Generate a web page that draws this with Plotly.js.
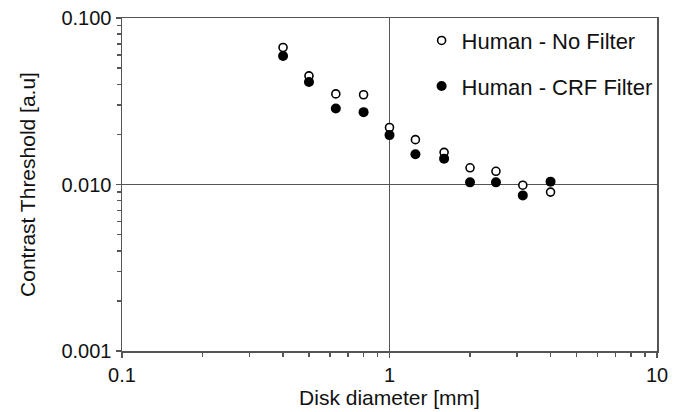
<!DOCTYPE html>
<html>
<head>
<meta charset="utf-8">
<script src="https://cdn.plot.ly/plotly-3.0.1.min.js"></script>
<style>html,body{margin:0;padding:0;background:#fff;}#chart{width:682px;height:412px;}</style>
</head>
<body>
<div id="chart"></div>
<script>
// Disk diameter [mm]
const diameters = [0.4, 0.5, 0.63, 0.8, 1.0, 1.25, 1.6, 2.0, 2.5, 3.15, 4.0];
// Contrast threshold, no filter (open circles)
const noFilter = [0.0665, 0.0449, 0.0350, 0.0346, 0.0220, 0.0186, 0.0156, 0.0126, 0.0120, 0.0099, 0.0090];
// Contrast threshold, CRF filter (filled circles)
const crfFilter = [0.0591, 0.0413, 0.0286, 0.0272, 0.0198, 0.0152, 0.0143, 0.0103, 0.0103, 0.0086, 0.0104];

const xMajor = [0.1, 1, 10];
const xMajorText = ['0.1', '1', '10'];
const yMajor = [0.001, 0.01, 0.1];
const yMajorText = ['0.001', '0.010', '0.100'];
const xMinor = [0.2,0.3,0.4,0.5,0.6,0.7,0.8,0.9,2,3,4,5,6,7,8,9];
const yMinor = [0.002,0.003,0.004,0.005,0.006,0.007,0.008,0.009,0.02,0.03,0.04,0.05,0.06,0.07,0.08,0.09];

const lineCol = '#555555';
const fontFam = 'Liberation Sans, Arial, sans-serif';

const traces = [
  {
    x: diameters, y: noFilter, type: 'scatter', mode: 'markers',
    name: 'Human - No Filter', legendgroup: 'a',
    marker: {symbol: 'circle', size: 8, color: '#ffffff', line: {color: '#000000', width: 1.6}}
  },
  {
    x: diameters, y: crfFilter, type: 'scatter', mode: 'markers',
    name: 'Human - CRF Filter', legendgroup: 'b',
    marker: {symbol: 'circle', size: 10, color: '#000000', line: {color: '#000000', width: 0}}
  }
];

const axisCommon = {
  type: 'log', showline: true, linecolor: lineCol, linewidth: 1.5, mirror: true,
  showgrid: true, gridcolor: lineCol, gridwidth: 1.5, zeroline: false,
  ticks: 'outside', ticklen: 5, tickwidth: 1.5, tickcolor: lineCol,
  tickfont: {family: fontFam, size: 20, color: '#111'},
  tickmode: 'array',
  minor: {tickmode: 'array', ticks: 'outside', ticklen: 4, tickwidth: 1.5, tickcolor: lineCol, showgrid: false}
};

const layout = {
  width: 682, height: 412,
  margin: {l: 122, r: 25, t: 18, b: 61},
  paper_bgcolor: '#ffffff', plot_bgcolor: '#ffffff',
  font: {family: fontFam, color: '#111'},
  showlegend: true,
  legend: {
    x: 0.56, y: 0.995, xanchor: 'left', yanchor: 'top',
    font: {family: fontFam, size: 22, color: '#111'},
    bgcolor: 'rgba(0,0,0,0)', tracegroupgap: 14, itemwidth: 30
  },
  xaxis: Object.assign({}, axisCommon, {
    range: [-1, 1], tickvals: xMajor, ticktext: xMajorText,
    minor: Object.assign({}, axisCommon.minor, {tickvals: xMinor}),
    title: {text: 'Disk diameter [mm]', font: {family: fontFam, size: 21, color: '#111'}, standoff: 6}
  }),
  yaxis: Object.assign({}, axisCommon, {
    range: [-3, -1], tickvals: yMajor, ticktext: yMajorText,
    minor: Object.assign({}, axisCommon.minor, {tickvals: yMinor}),
    title: {text: 'Contrast Threshold [a.u]', font: {family: fontFam, size: 21, color: '#111'}, standoff: 20}
  })
};

Plotly.newPlot('chart', traces, layout, {displayModeBar: false, staticPlot: true});
</script>
</body>
</html>
